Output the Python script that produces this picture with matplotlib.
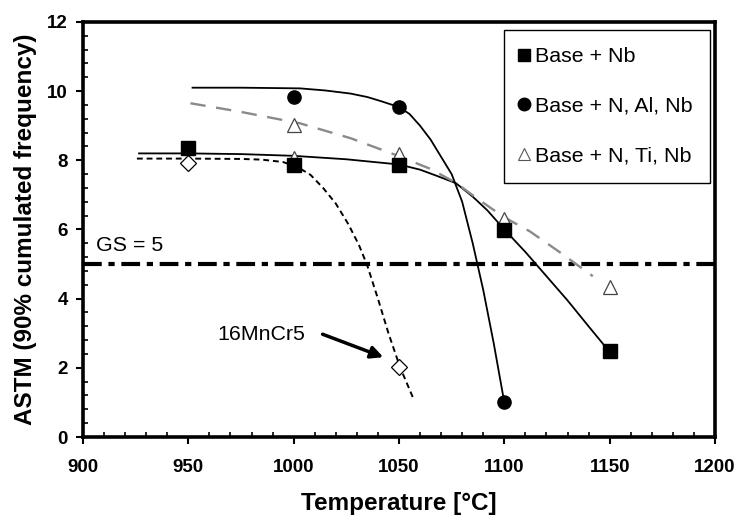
import matplotlib
matplotlib.use("Agg")
import matplotlib.pyplot as plt
from matplotlib.lines import Line2D

# --------------------------------------------------
# 1. Data
# --------------------------------------------------

# measured points
temp_nb = [950, 1000, 1050, 1100, 1150]
astm_nb = [8.35, 7.86, 7.86, 5.98, 2.5]

temp_al = [1000, 1050, 1100]
astm_al = [9.83, 9.54, 1.0]

temp_ti = [1000, 1000, 1050, 1100, 1150]
astm_ti = [9.02, 8.06, 8.18, 6.3, 4.33]

temp_mncr = [950, 1050]
astm_mncr = [7.92, 2.02]

# trend curves, points
curve_nb_t = [926.6, 950, 975, 1000, 1025, 1050, 1060, 1068, 1077, 1085, 1092, 1100,
              1110, 1120, 1130, 1140, 1150]
curve_nb_v = [8.2, 8.2, 8.18, 8.13, 8.03, 7.88, 7.73, 7.55, 7.34, 6.95, 6.55, 6.0,
              5.35, 4.65, 3.95, 3.2, 2.46]

curve_al_t = [952, 975, 990, 1003, 1015, 1027, 1035, 1042, 1050, 1055, 1060, 1065,
              1070, 1075, 1080, 1085, 1090, 1095, 1100]
curve_al_v = [10.1, 10.1, 10.09, 10.08, 10.02, 9.93, 9.83, 9.7, 9.54, 9.34, 9.0, 8.6,
              8.1, 7.6, 6.8, 5.6, 4.25, 2.7, 1.0]

curve_ti_t = [951, 975, 1003, 1027, 1050, 1065, 1077, 1087, 1100, 1112, 1125, 1142]
curve_ti_v = [9.65, 9.4, 9.07, 8.64, 8.12, 7.75, 7.35, 6.9, 6.35, 5.95, 5.4, 4.65]

curve_mncr_t = [925.6, 950, 975, 985, 995, 1002, 1008, 1014, 1020, 1026, 1031, 1035,
                1040, 1045, 1050.5, 1056.7]
curve_mncr_v = [8.05, 8.05, 8.04, 8.02, 7.95, 7.8, 7.58, 7.2, 6.75, 6.15, 5.55, 4.95,
                4.0, 3.0, 2.02, 1.13]

gs_limit = 5

legend_labels = ["Base + Nb", "Base + N, Al, Nb", "Base + N, Ti, Nb"]

# --------------------------------------------------
# 2. Plot
# --------------------------------------------------

plt.rcParams["font.family"] = ["Liberation Sans", "DejaVu Sans"]

fig = plt.figure(figsize=(7.39, 5.16), dpi=100)
ax = fig.add_axes([0.1123, 0.1531, 0.8552, 0.8043])

# GS = 5 reference line
ax.axhline(gs_limit, color="black", lw=3.0, dashes=(4.5, 1.6, 1.5, 1.6), zorder=2)
ax.text(906, 5.55, "GS = 5", fontsize=15.4, va="center", ha="left")

# trend curves
ax.plot(curve_nb_t, curve_nb_v, color="black", lw=1.3, zorder=3)
ax.plot(curve_al_t, curve_al_v, color="black", lw=1.3, zorder=3)
ax.plot(curve_ti_t, curve_ti_v, color="#8a8a8a", lw=1.7, dashes=(6.5, 4.5), zorder=3)
ax.plot(curve_mncr_t, curve_mncr_v, color="black", lw=1.4, dashes=(3, 2), zorder=3)

# data points
ax.plot(temp_mncr, astm_mncr, ls="none", marker="D", ms=8, mfc="white",
        mec="black", mew=0.9, zorder=4)
ax.plot(temp_ti, astm_ti, ls="none", marker="^", ms=10, mfc="white",
        mec="#444444", mew=0.9, zorder=4)
ax.plot(temp_nb, astm_nb, ls="none", marker="s", ms=10, color="black", zorder=5)
ax.plot(temp_al, astm_al, ls="none", marker="o", ms=9.5, color="black", zorder=5)

# annotation for 16MnCr5
ax.text(964, 2.95, "16MnCr5", fontsize=15.4, va="center", ha="left")
ax.annotate("", xy=(1043.8, 2.28), xytext=(1012.5, 3.0),
            arrowprops=dict(arrowstyle="-|>", lw=2.5, color="black", mutation_scale=18))

# axes
ax.set_xlim(900, 1200)
ax.set_ylim(0, 12)
ax.set_xticks(range(900, 1201, 50))
ax.set_yticks(range(0, 13, 2))
ax.set_xticks(range(900, 1201, 10), minor=True)
ax.set_yticks([i * 0.4 for i in range(31)], minor=True)

for side in ax.spines.values():
    side.set_linewidth(2.6)

ax.tick_params(which="major", direction="out", length=5, width=1.5,
               labelsize=13.5)
ax.tick_params(which="minor", direction="in", length=3.6, width=1.2)
ax.tick_params(axis="x", which="major", pad=11)
ax.tick_params(axis="y", which="major", pad=6)
for lab in ax.get_xticklabels() + ax.get_yticklabels():
    lab.set_fontweight("bold")

ax.set_xlabel("Temperature [°C]", fontsize=17.5, fontweight="bold")
ax.set_ylabel("ASTM (90% cumulated frequency)", fontsize=17.5, fontweight="bold")
ax.xaxis.set_label_coords(0.5, -0.132)
ax.yaxis.set_label_coords(-0.072, 0.5)

# legend (markers only)
handles = [
    Line2D([], [], ls="none", marker="s", ms=9, color="black"),
    Line2D([], [], ls="none", marker="o", ms=9, color="black"),
    Line2D([], [], ls="none", marker="^", ms=9, mfc="white", mec="#555555", mew=0.8),
]
leg = ax.legend(handles, legend_labels, loc="upper right",
                bbox_to_anchor=(710 / 739, 1 - 30 / 516),
                bbox_transform=fig.transFigure, fontsize=15.4, frameon=True,
                fancybox=False, edgecolor="black", framealpha=1,
                handlelength=0.2, handletextpad=0.45, labelspacing=1.44,
                borderpad=0.8, borderaxespad=0)
leg.get_frame().set_linewidth(1.0)

plt.savefig("out.png", dpi=100)
